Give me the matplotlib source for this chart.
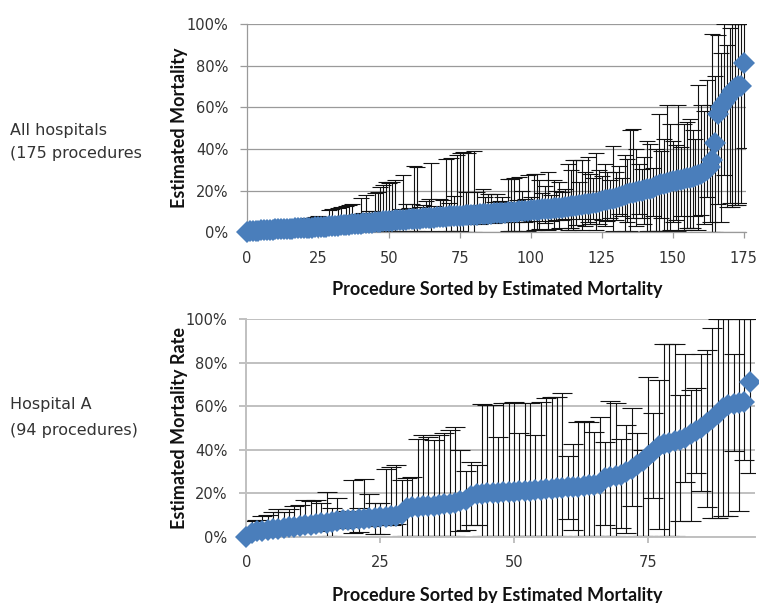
import numpy as np
import matplotlib
matplotlib.use("Agg")
import matplotlib.pyplot as plt
from matplotlib.ticker import PercentFormatter
from matplotlib.transforms import Bbox, TransformedBbox

# ============================================================
# Data: estimated mortality (%) per procedure, sorted, with
# lower / upper bounds of the interval
# ============================================================
all_mort = [
    0,
    0.4, 0.6, 0.7, 0.8, 0.9, 1.0, 1.1, 1.2, 1.3, 1.4,
    1.5, 1.5, 1.6, 1.7, 1.8, 1.8, 1.9, 2.0, 2.0, 2.1,
    2.2, 2.2, 2.3, 2.4, 2.4, 2.5, 2.6, 2.7, 2.8, 3.0,
    3.1, 3.2, 3.3, 3.4, 3.6, 3.7, 3.8, 3.9, 4.0, 4.2,
    4.3, 4.4, 4.5, 4.7, 4.8, 4.9, 5.0, 5.2, 5.3, 5.5,
    5.6, 5.7, 5.8, 5.9, 6.0, 6.1, 6.2, 6.3, 6.4, 6.5,
    6.6, 6.7, 6.8, 6.9, 7.0, 7.1, 7.2, 7.3, 7.4, 7.5,
    7.6, 7.7, 7.8, 7.8, 7.9, 8.0, 8.1, 8.2, 8.3, 8.4,
    8.5, 8.6, 8.7, 8.8, 8.9, 9.0, 9.1, 9.2, 9.3, 9.4,
    9.5, 9.6, 9.7, 9.8, 9.9, 10.0, 10.1, 10.2, 10.4, 10.5,
    10.6, 10.7, 10.9, 11.0, 11.1, 11.2, 11.4, 11.5, 11.6, 11.8,
    11.9, 12.0, 12.2, 12.4, 12.6, 12.8, 13.0, 13.2, 13.4, 13.6,
    13.8, 14.0, 14.3, 14.6, 15.0, 15.3, 15.6, 15.9, 16.2, 16.6,
    17.0, 17.4, 17.8, 18.3, 18.7, 19.0, 19.3, 19.6, 19.9, 20.2,
    20.6, 21.0, 21.5, 22.0, 22.5, 23.0, 23.4, 23.8, 24.1, 24.4,
    24.7, 25.0, 25.3, 25.6, 25.9, 26.2, 26.6, 27.0, 27.4, 27.8,
    29.0, 30.0, 31.5, 34.5,
    43.0, 57.0, 60.0, 62.0, 64.0, 66.0, 68.0, 69.5, 70.0, 70.0, 81.5,
]
all_hi = [
    0,
    1.5, 2.0, 2.4, 2.6, 2.9, 3.1, 3.3, 3.6, 4.2, 4.6,
    4.7, 5.0, 4.9, 5.2, 5.3, 5.3, 5.6, 5.5, 5.8, 6.2,
    6.3, 6.7, 7.0, 7.5, 7.8, 7.3, 7.4, 7.1, 10.6, 11.0,
    6.5, 11.9, 12.0, 8.0, 12.4, 13.1, 13.8, 8.5, 9.0, 16.5,
    9.2, 17.8, 10.0, 10.3, 18.9, 19.2, 21.8, 22.6, 24.0, 23.9,
    24.2, 25.0, 10.2, 11.0, 27.7, 13.7, 11.5, 13.7, 31.8, 31.4,
    12.0, 13.0, 15.0, 15.8, 33.5, 12.5, 10.9, 16.0, 15.4, 35.2,
    14.0, 35.9, 17.5, 37.0, 38.2, 38.6, 19.4, 38.1, 12.5, 38.9,
    19.4, 13.0, 20.6, 17.0, 18.6, 18.6, 14.5, 18.6, 15.0, 17.0,
    14.5, 25.8, 25.8, 26.0, 15.5, 26.6, 20.0, 16.0, 27.4, 17.0,
    28.2, 28.2, 25.0, 19.0, 22.0, 29.0, 18.0, 25.0, 20.0, 24.2,
    19.5, 21.0, 32.7, 30.0, 34.6, 34.6, 24.0, 34.6, 29.0, 36.2,
    28.0, 26.0, 38.1, 30.0, 27.0, 33.0, 29.0, 25.0, 41.3, 29.0,
    32.0, 26.0, 37.0, 35.0, 49.0, 49.8, 40.0, 33.0, 30.6, 36.0,
    44.0, 42.6, 31.0, 40.0, 57.0, 39.0, 45.0, 61.0, 52.0, 44.0,
    42.0, 61.0, 41.0, 52.0, 53.0, 54.6, 49.0, 45.0, 70.7, 61.0,
    58.0, 73.1, 61.0, 95.0,
    75.0, 94.7, 86.0, 100, 90.0, 98.0, 100, 100, 100, 100, 100,
]
all_lo = [
    0,
    0, 0, 0, 0, 0, 0.1, 0.1, 0.2, 0.2, 0.2,
    0.3, 0.3, 0.3, 0.3, 0.4, 0.4, 0.4, 0.5, 0.5, 0.5,
    0.6, 0.6, 0.6, 0.7, 0.7, 0.7, 0.8, 0.8, 0.3, 0.3,
    0.9, 0.4, 0.4, 1.0, 0.5, 0.5, 0.5, 1.2, 1.2, 0.6,
    1.3, 0.6, 1.5, 1.5, 0.7, 0.7, 0.6, 0.6, 0.5, 0.5,
    0.5, 0.5, 3.0, 3.2, 0.5, 4.0, 3.5, 4.2, 0.5, 0.5,
    3.8, 4.0, 4.5, 4.6, 0.4, 3.8, 3.5, 4.8, 4.5, 0.4,
    4.5, 0.4, 5.0, 0.4, 0.4, 0.3, 5.5, 0.3, 4.0, 0.3,
    5.5, 4.2, 5.8, 5.0, 5.2, 5.2, 4.6, 5.4, 4.8, 5.0,
    4.8, 0.8, 0.8, 0.8, 5.0, 0.8, 5.8, 5.0, 0.8, 5.2,
    0.9, 0.9, 1.5, 5.6, 4.5, 0.9, 5.6, 1.5, 5.8, 2.0,
    6.0, 6.2, 1.0, 2.0, 0.9, 3.5, 6.5, 0.9, 3.0, 5.0,
    4.0, 6.5, 1.0, 4.0, 6.0, 3.0, 5.5, 7.0, 0.5, 6.0,
    9.0, 8.0, 0.8, 5.0, 0.5, 6.7, 3.0, 9.0, 7.0, 4.0,
    0.5, 0.5, 8.0, 0.5, 0.4, 7.0, 0.4, 0.4, 1.0, 5.0,
    6.0, 0.5, 8.0, 1.3, 2.0, 2.0, 2.0, 8.0, 1.0, 8.5,
    4.0, 16.9, 5.0, 0.3,
    0.2, 13.8, 5.0, 27.4, 12.0, 14.0, 12.2, 13.0, 13.0, 14.0, 40.3,
]

hosp_mort = [
    0,
    1.8, 2.4, 2.8, 3.1, 3.4, 3.7, 4.0, 4.3, 4.6, 4.9,
    5.2, 5.5, 5.8, 6.1, 6.4, 6.8, 7.2, 7.5, 7.7, 7.9,
    8.1, 8.3, 8.5, 8.7, 8.9, 9.1, 9.3, 9.6, 10.4, 13.0,
    13.6, 13.8, 13.9, 14.0, 14.2, 14.4, 14.8, 15.2, 15.6, 16.2,
    16.8, 18.8, 19.4, 19.7, 19.9, 20.1, 20.3, 20.4, 20.5, 20.6,
    20.8, 21.0, 21.2, 21.4, 21.6, 21.8, 22.0, 22.2, 22.4, 22.6,
    22.8, 23.0, 23.3, 23.6, 23.9, 24.2, 27.0, 27.5, 27.8, 28.5,
    29.5, 31.0, 33.0, 35.0, 37.0, 39.0, 41.5, 42.5, 43.0, 43.8,
    44.5, 45.5, 47.0, 48.5, 50.0, 52.0, 54.0, 56.5, 59.0, 60.5,
    61.0, 61.3, 61.8, 71.0,
]
hosp_hi = [
    0,
    7.0, 7.8, 9.3, 9.8, 11.3, 12.7, 11.5, 12.9, 14.0, 14.7,
    16.8, 16.3, 16.8, 15.5, 20.5, 13.2, 17.8, 10.9, 12.0, 26.1,
    13.2, 26.6, 19.6, 15.5, 15.5, 31.0, 32.2, 32.9, 26.1, 26.9,
    27.2, 44.8, 46.5, 46.0, 44.5, 46.5, 47.8, 49.0, 50.6, 39.9,
    30.2, 34.5, 33.0, 61.0, 60.5, 60.5, 46.0, 61.6, 61.6, 61.8,
    47.6, 61.6, 61.3, 46.8, 62.0, 63.6, 64.4, 64.0, 65.8, 36.9,
    42.6, 52.9, 53.2, 52.9, 48.0, 55.2, 43.7, 62.5, 61.3, 45.0,
    51.3, 58.9, 47.8, 40.0, 73.5, 57.0, 72.0, 88.4, 88.4, 88.4,
    65.0, 83.8, 67.4, 68.2, 83.8, 85.8, 95.9, 100, 100, 100,
    83.8, 100, 100, 100,
]
hosp_lo = [
    0,
    0.5, 0.8, 1.0, 1.2, 1.4, 1.5, 1.8, 2.0, 2.1, 2.3,
    2.5, 2.6, 2.8, 3.0, 0.5, 0.5, 4.0, 4.0, 4.5, 1.8,
    2.0, 4.8, 5.0, 1.4, 1.4, 5.5, 5.6, 5.8, 0.5, 0.5,
    0.5, 0.3, 0.3, 0.3, 0.3, 0.3, 0.3, 0.3, 0.3, 2.7,
    2.9, 5.5, 5.5, 0.3, 0.3, 0.3, 0.3, 0.3, 0.3, 0.3,
    0.3, 0.3, 0.3, 0.3, 0.3, 0.3, 0.3, 0.3, 0.3, 8.0,
    2.9, 0.3, 0.3, 0.3, 0.3, 0.3, 5.4, 0.3, 0.3, 4.0,
    1.5, 14.0, 0.3, 0.3, 0.3, 18.0, 3.4, 0.3, 0.3, 0.3,
    7.0, 25.0, 7.1, 29.2, 20.9, 13.7, 8.6, 8.8, 9.4, 9.6,
    39.2, 11.6, 35.3, 29.2,
]

XLABEL = "Procedure Sorted by Estimated Mortality"
BLUE = "#4a7ebb"
W, H = 759, 603

fig = plt.figure(figsize=(W / 100, H / 100), dpi=100)


def px_axes(left, top, right, bottom):
    """axes from pixel edges (origin top-left)"""
    return fig.add_axes([left / W, 1 - bottom / H, (right - left) / W, (bottom - top) / H])


def panel(ax, mort, lo, hi, xmax, xticks, grid_color, grid_lw, ms, cap):
    x = np.arange(len(mort))
    mort = np.array(mort)
    yerr = [mort - np.array(lo), np.array(hi) - mort]
    ax.errorbar(x, mort, yerr=yerr, fmt="none", ecolor="#111111", elinewidth=0.8,
                capsize=cap, capthick=0.8, zorder=2)
    ax.plot(x, mort, linestyle="none", marker="D", ms=ms, color=BLUE,
            markeredgewidth=0, zorder=3, clip_on=False)
    ax.set_xlim(0, xmax)
    ax.set_ylim(0, 100)
    ax.set_xticks(xticks)
    ax.set_yticks(np.arange(0, 101, 20))
    ax.yaxis.set_major_formatter(PercentFormatter(100, decimals=0))
    ax.grid(axis="y", color=grid_color, linewidth=grid_lw, zorder=0)
    ax.set_axisbelow(True)
    for s in ("top", "right"):
        ax.spines[s].set_visible(False)
    for s in ("left", "bottom"):
        ax.spines[s].set_color(grid_color)
        ax.spines[s].set_linewidth(grid_lw)
    ax.tick_params(axis="x", direction="out", length=4.5, width=grid_lw,
                   color=grid_color, pad=9, labelsize=10.5, labelcolor="#333333")
    ax.tick_params(axis="y", direction="out", length=5, width=grid_lw,
                   color=grid_color, pad=8.5, labelsize=10.5, labelcolor="#333333")


# --- all hospitals ---
ax1 = px_axes(247, 24, 745.7, 232.3)
panel(ax1, all_mort, all_lo, all_hi, 175.7, np.arange(0, 176, 25),
      "#9a9a9a", 0.9, 11, 5.5)

# --- hospital A ---
ax2 = px_axes(246.3, 319, 755, 536.7)
panel(ax2, hosp_mort, hosp_lo, hosp_hi, 95, np.arange(0, 76, 25),
      "#c0c0c0", 1.4, 11.5, 7)

# axis titles
lab = dict(fontsize=13, fontweight="bold", family="Lato", color="#111111")
fig.text(180 / W, 1 - 128 / H, "Estimated Mortality", rotation=90,
         ha="center", va="center", **lab)
fig.text(180 / W, 1 - 428 / H, "Estimated Mortality Rate", rotation=90,
         ha="center", va="center", **lab)
t_top = fig.text(497 / W, 1 - 290 / H, XLABEL, ha="center", va="center", **lab)
t_top.set_clip_box(TransformedBbox(Bbox([[0, 1 - 298 / H], [1, 1]]), fig.transFigure))
t_top.set_clip_on(True)
fig.text(497 / W, 1 - 595 / H, XLABEL, ha="center", va="center", **lab)

# group names on the left
side = dict(fontsize=11.5, family="DejaVu Sans", color="#333333", va="center", ha="left")
fig.text(10 / W, 1 - 131 / H, "All hospitals", **side)
t_n = fig.text(10 / W, 1 - 153 / H, "(175 procedures)", **side)
t_n.set_clip_box(TransformedBbox(Bbox([[0, 0], [143 / W, 1]]), fig.transFigure))
t_n.set_clip_on(True)
fig.text(10 / W, 1 - 405 / H, "Hospital A", **side)
fig.text(10 / W, 1 - 431 / H, "(94 procedures)", **side)

plt.savefig("out.png", dpi=100)
